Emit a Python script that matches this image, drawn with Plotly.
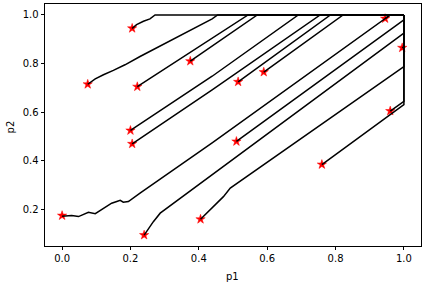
import plotly.graph_objects as go

# Start points (red stars)
star_p1 = [0.0, 0.24, 0.405, 0.76, 0.96, 0.51, 0.995, 0.945, 0.59, 0.515, 0.375, 0.2, 0.205, 0.22, 0.075, 0.205]
star_p2 = [0.175, 0.095, 0.16, 0.385, 0.605, 0.48, 0.865, 0.985, 0.765, 0.725, 0.81, 0.525, 0.47, 0.705, 0.715, 0.945]

# Trajectories
t01_p1 = [0.0, 0.028, 0.048, 0.077, 0.097, 0.121, 0.145, 0.160, 0.170, 0.179, 0.194, 0.228, 0.439, 0.96, 1.0]
t01_p2 = [0.172, 0.175, 0.171, 0.189, 0.183, 0.205, 0.226, 0.233, 0.238, 0.230, 0.233, 0.267, 0.474, 1.0, 1.0]
t02_p1 = [0.24, 0.252, 0.267, 0.287, 0.506, 1.0, 1.0]
t02_p2 = [0.095, 0.12, 0.15, 0.185, 0.413, 0.925, 1.0]
t03_p1 = [0.405, 0.423, 0.472, 0.492, 0.755, 1.0, 1.0]
t03_p2 = [0.16, 0.185, 0.253, 0.288, 0.548, 0.788, 1.0]
t04_p1 = [0.76, 1.0, 1.0]
t04_p2 = [0.385, 0.631, 1.0]
t05_p1 = [0.96, 1.0, 1.0]
t05_p2 = [0.605, 0.645, 1.0]
t06_p1 = [0.51, 1.0, 1.0]
t06_p2 = [0.48, 0.98, 1.0]
t07_p1 = [0.995, 1.0, 1.0]
t07_p2 = [0.865, 0.87, 1.0]
t08_p1 = [0.945, 0.96, 1.0]
t08_p2 = [0.985, 1.0, 1.0]
t09_p1 = [0.59, 0.822, 1.0]
t09_p2 = [0.765, 1.0, 1.0]
t10_p1 = [0.515, 0.785, 1.0]
t10_p2 = [0.725, 1.0, 1.0]
t11_p1 = [0.375, 0.571, 1.0]
t11_p2 = [0.81, 1.0, 1.0]
t12_p1 = [0.2, 0.439, 0.691, 1.0]
t12_p2 = [0.525, 0.748, 1.0, 1.0]
t13_p1 = [0.205, 0.439, 0.755, 1.0]
t13_p2 = [0.47, 0.692, 1.0, 1.0]
t14_p1 = [0.22, 0.439, 0.544, 1.0]
t14_p2 = [0.705, 0.902, 1.0, 1.0]
t15_p1 = [0.075, 0.097, 0.121, 0.140, 0.150, 0.184, 0.214, 0.228, 0.439, 0.455, 1.0]
t15_p2 = [0.715, 0.737, 0.754, 0.768, 0.772, 0.795, 0.818, 0.829, 0.984, 1.0, 1.0]
t16_p1 = [0.205, 0.218, 0.238, 0.257, 0.272, 1.0]
t16_p2 = [0.945, 0.960, 0.974, 0.984, 1.0, 1.0]

paths = [
    (t01_p1, t01_p2), (t02_p1, t02_p2), (t03_p1, t03_p2), (t04_p1, t04_p2),
    (t05_p1, t05_p2), (t06_p1, t06_p2), (t07_p1, t07_p2), (t08_p1, t08_p2),
    (t09_p1, t09_p2), (t10_p1, t10_p2), (t11_p1, t11_p2), (t12_p1, t12_p2),
    (t13_p1, t13_p2), (t14_p1, t14_p2), (t15_p1, t15_p2), (t16_p1, t16_p2),
]

x_ticks = [0.0, 0.2, 0.4, 0.6, 0.8, 1.0]
y_ticks = [0.2, 0.4, 0.6, 0.8, 1.0]

FONT = dict(family="DejaVu Sans", size=10, color="black")

fig = go.Figure()
fig.add_trace(go.Scatter(x=star_p1, y=star_p2, mode="markers",
                         marker=dict(symbol="star", color="red", size=7,
                                     line=dict(color="red", width=0.5)),
                         showlegend=False))
for px, py in paths:
    fig.add_trace(go.Scatter(x=px, y=py, mode="lines",
                             line=dict(color="black", width=1.5),
                             showlegend=False))

axis_common = dict(showgrid=False, zeroline=False, showline=True, mirror=True,
                   linecolor="black", linewidth=0.8, ticks="outside", ticklen=3.5,
                   tickwidth=0.8, tickcolor="black", automargin=False,
                   tickfont=FONT)
fig.update_xaxes(range=[-0.05, 1.05], tickvals=x_ticks,
                 ticktext=[f"{v:.1f}" for v in x_ticks], **axis_common)
fig.update_yaxes(range=[0.05, 1.045], tickvals=y_ticks,
                 ticktext=[f"{v:.1f}" for v in y_ticks], **axis_common)
fig.add_annotation(text="p1", xref="paper", yref="paper", x=0.498, y=-0.124,
                   xanchor="center", yanchor="middle", showarrow=False, font=FONT)
fig.add_annotation(text="p2", xref="paper", yref="paper", x=-0.093, y=0.49,
                   xanchor="center", yanchor="middle", showarrow=False, font=FONT,
                   textangle=-90)
fig.update_layout(width=425, height=286, margin=dict(l=45, r=4, t=4, b=40),
                  plot_bgcolor="white", paper_bgcolor="white")
fig.write_html("out.html", config={"displayModeBar": False},
               post_script="document.body.style.margin='0';document.body.style.overflow='hidden';")
